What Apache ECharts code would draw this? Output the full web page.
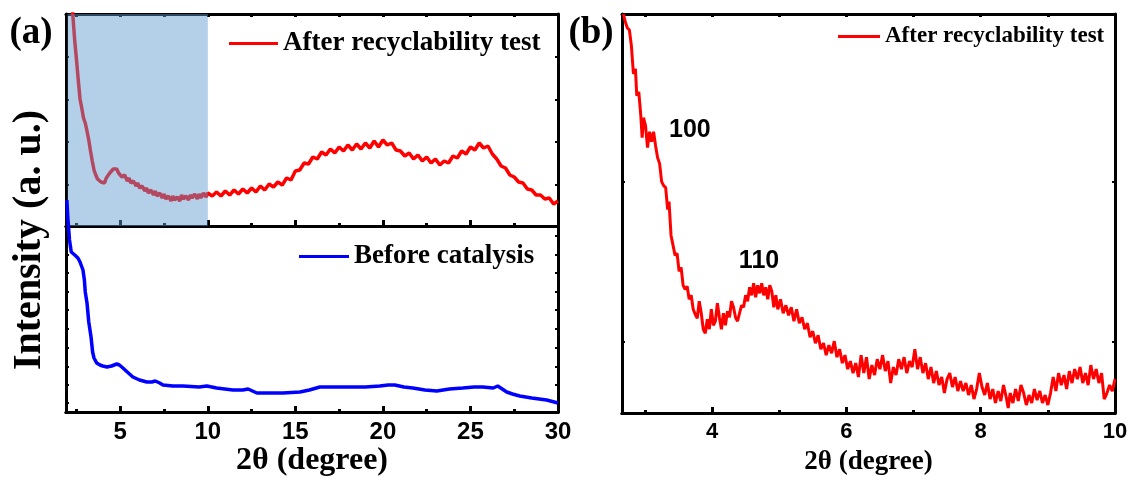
<!DOCTYPE html>
<html>
<head>
<meta charset="utf-8">
<script src="https://cdn.jsdelivr.net/npm/echarts@6/dist/echarts.min.js"></script>
<style>
html, body { margin: 0; padding: 0; background: #fff; }
#chart { width: 1130px; height: 482px; }
</style>
</head>
<body>
<div id="chart"></div>
<script>
// (a) upper panel, after recyclability test: [2theta, intensity]
const afterA = [
  [2.25, 220], [2.4, 185], [2.5, 166], [2.6, 146], [2.7, 127], [2.8, 118], [2.9, 108], [3.0, 103],
  [3.1, 95], [3.2, 86], [3.3, 75], [3.4, 65], [3.5, 56], [3.6, 51], [3.7, 47], [3.8, 49],
  [3.9, 44], [4.0, 46], [4.1, 43], [4.2, 48], [4.3, 47], [4.4, 53], [4.5, 52], [4.6, 57],
  [4.7, 55], [4.8, 57], [4.9, 53], [5.0, 55], [5.1, 49], [5.25, 51], [5.4, 45], [5.5, 48],
  [5.6, 43], [5.75, 45], [5.9, 40], [6.0, 43], [6.1, 38], [6.25, 40], [6.4, 35], [6.5, 38],
  [6.6, 33], [6.75, 36], [6.9, 31], [7.0, 35], [7.1, 30], [7.25, 33], [7.4, 28], [7.5, 32],
  [7.6, 27], [7.75, 30], [7.9, 25], [8.0, 30], [8.1, 26], [8.25, 29], [8.4, 25], [8.5, 31],
  [8.6, 27], [8.75, 30], [8.9, 26], [9.0, 31], [9.1, 28], [9.25, 32], [9.4, 27], [9.5, 32],
  [9.6, 28], [9.75, 33], [9.9, 29], [10.0, 33], [10.25, 30], [10.5, 34], [10.75, 30], [11.0, 35],
  [11.25, 31], [11.5, 36], [11.75, 32], [12.0, 37], [12.25, 33], [12.5, 38], [12.75, 34], [13.0, 40],
  [13.25, 36], [13.5, 42], [13.75, 39], [14.0, 44], [14.25, 41], [14.5, 48], [14.75, 46], [15.0, 55],
  [15.25, 56], [15.5, 63], [15.75, 62], [16.0, 69], [16.25, 67], [16.5, 74], [16.75, 71], [17.0, 77],
  [17.25, 73], [17.5, 79], [17.75, 75], [18.0, 81], [18.25, 76], [18.5, 82], [18.75, 77], [19.0, 83],
  [19.25, 78], [19.5, 85], [19.75, 79], [20.0, 86], [20.25, 81], [20.5, 83], [20.75, 76], [21.0, 75],
  [21.25, 70], [21.5, 73], [21.75, 67], [22.0, 71], [22.25, 65], [22.5, 69], [22.75, 63], [23.0, 67],
  [23.25, 61], [23.5, 65], [23.75, 63], [24.0, 70], [24.25, 68], [24.5, 75], [24.75, 72], [25.0, 79],
  [25.25, 76], [25.5, 83], [25.75, 78], [26.0, 80], [26.25, 72], [26.5, 67], [26.75, 60], [27.0, 58],
  [27.25, 51], [27.5, 49], [27.75, 44], [28.0, 43], [28.25, 37], [28.5, 36], [28.75, 31], [29.0, 31],
  [29.25, 27], [29.5, 28], [29.75, 22], [30.0, 25]
];

// (a) lower panel, before catalysis
const beforeA = [
  [1.95, 212], [2.0, 195], [2.1, 172], [2.2, 160], [2.4, 157], [2.58, 154], [2.7, 150], [2.87, 142],
  [2.95, 132], [3.0, 120], [3.1, 109], [3.2, 90], [3.33, 75], [3.42, 60], [3.5, 54], [3.65, 49],
  [3.84, 47], [4.0, 46], [4.24, 45], [4.5, 46], [4.8, 48], [4.95, 47], [5.15, 44], [5.4, 40],
  [5.72, 35], [6.1, 32], [6.52, 30], [6.8, 30], [7.0, 31], [7.09, 32], [7.25, 29], [7.44, 27],
  [8.0, 26], [8.58, 26], [9.5, 25], [9.95, 26], [10.5, 24], [11.43, 22], [12.0, 22], [12.3, 23],
  [12.4, 24], [12.55, 21], [12.8, 19], [13.5, 19], [14.29, 19], [15.26, 20], [15.8, 22], [16.4, 25],
  [17.2, 25], [17.94, 25], [19.0, 25], [19.82, 26], [20.3, 27], [20.68, 27], [21.2, 25], [21.71, 24],
  [22.4, 22], [23.08, 21], [23.8, 23], [24.56, 24], [25.2, 25], [25.7, 25], [26.3, 24], [26.56, 26],
  [26.65, 24], [27.07, 20], [27.4, 18], [27.81, 16], [28.5, 14], [29.35, 12], [30.0, 9]
];

// (b) low-angle zoom, after recyclability test
const afterB = [
  [2.68, 400], [2.71, 392], [2.74, 386], [2.77, 384], [2.80, 368], [2.83, 340], [2.86, 345], [2.88, 318],
  [2.91, 322], [2.94, 298], [2.96, 276], [2.98, 296], [3.01, 288], [3.04, 266], [3.07, 282], [3.10, 272],
  [3.13, 282], [3.16, 268], [3.19, 256], [3.22, 250], [3.25, 232], [3.28, 228], [3.31, 226], [3.34, 204],
  [3.36, 212], [3.39, 178], [3.42, 168], [3.45, 158], [3.48, 160], [3.51, 142], [3.54, 146], [3.57, 128],
  [3.60, 124], [3.63, 127], [3.66, 114], [3.69, 118], [3.72, 104], [3.75, 99], [3.78, 95], [3.81, 112],
  [3.84, 100], [3.87, 84], [3.90, 80], [3.93, 94], [3.96, 84], [3.99, 104], [4.02, 88], [4.05, 92],
  [4.08, 110], [4.11, 96], [4.14, 84], [4.17, 100], [4.20, 88], [4.23, 102], [4.26, 96], [4.29, 112],
  [4.32, 106], [4.35, 96], [4.38, 92], [4.41, 100], [4.44, 108], [4.47, 106], [4.50, 118], [4.53, 112],
  [4.56, 126], [4.59, 118], [4.62, 130], [4.65, 116], [4.68, 128], [4.71, 120], [4.74, 130], [4.77, 118],
  [4.80, 126], [4.83, 114], [4.86, 128], [4.89, 122], [4.92, 106], [4.95, 118], [4.98, 104], [5.02, 114],
  [5.06, 100], [5.10, 108], [5.14, 98], [5.18, 106], [5.22, 92], [5.26, 104], [5.30, 90], [5.34, 96],
  [5.38, 84], [5.42, 90], [5.46, 76], [5.50, 82], [5.54, 70], [5.58, 78], [5.62, 64], [5.66, 70],
  [5.70, 58], [5.74, 68], [5.78, 60], [5.82, 72], [5.86, 56], [5.90, 64], [5.94, 50], [5.98, 58],
  [6.02, 44], [6.06, 52], [6.10, 40], [6.14, 50], [6.18, 36], [6.22, 58], [6.26, 40], [6.30, 56],
  [6.34, 34], [6.38, 48], [6.42, 38], [6.46, 54], [6.50, 44], [6.54, 58], [6.58, 42], [6.62, 52],
  [6.66, 30], [6.70, 46], [6.74, 38], [6.78, 54], [6.82, 44], [6.86, 56], [6.90, 40], [6.94, 52],
  [6.98, 46], [7.02, 64], [7.06, 44], [7.10, 56], [7.14, 40], [7.18, 50], [7.22, 34], [7.26, 46],
  [7.30, 30], [7.34, 42], [7.38, 28], [7.42, 36], [7.46, 20], [7.50, 34], [7.54, 40], [7.58, 26],
  [7.62, 36], [7.66, 22], [7.70, 32], [7.74, 22], [7.78, 30], [7.82, 18], [7.86, 28], [7.90, 14],
  [7.94, 24], [7.98, 40], [8.02, 26], [8.06, 18], [8.10, 30], [8.14, 14], [8.18, 24], [8.22, 10],
  [8.26, 22], [8.30, 12], [8.34, 28], [8.38, 16], [8.41, 5], [8.44, 20], [8.48, 10], [8.52, 24],
  [8.56, 12], [8.60, 28], [8.64, 20], [8.68, 8], [8.72, 18], [8.76, 10], [8.80, 24], [8.84, 13],
  [8.88, 22], [8.92, 10], [8.96, 18], [9.00, 8], [9.04, 20], [9.08, 36], [9.12, 22], [9.16, 40],
  [9.20, 28], [9.24, 38], [9.28, 24], [9.32, 42], [9.36, 30], [9.40, 44], [9.44, 34], [9.48, 46],
  [9.52, 30], [9.56, 40], [9.60, 28], [9.64, 48], [9.68, 34], [9.72, 44], [9.76, 30], [9.80, 40],
  [9.84, 14], [9.88, 20], [9.92, 28], [9.96, 22], [10.0, 34]
];

// ticks and labels
const labelsA = [5, 10, 15, 20, 25, 30];
const majorA = [5, 10, 15, 20, 25];
const minorA = [2.5, 7.5, 12.5, 17.5, 22.5, 27.5];
const topTicksA = [2.5, 5, 7.5, 10, 12.5, 15, 17.5, 20, 22.5, 25, 27.5];
const labelsB = [4, 6, 8, 10];
const majorB = [4, 6, 8];
const minorB = [3, 5, 7, 9];
const yTicksTop = [41, 84, 126, 169];
const yTicksBottom = [9, 27, 45, 64, 83, 102, 120, 139, 157, 176];
const yTicksB = [71, 232];
const peaks = [{ name: '100', coord: [3.67, 284] }, { name: '110', coord: [4.7, 152] }];

const serif = '"Liberation Serif", "Times New Roman", serif';
const sans = '"Liberation Sans", Arial, sans-serif';

function xAx(grid, pos, min, max, ticks, len, labels, fontSize) {
  return {
    type: 'value', gridIndex: grid, position: pos, min: min, max: max,
    axisLine: { show: true, onZero: false, lineStyle: { color: '#000', width: 3 } },
    axisTick: { show: true, inside: true, length: len, customValues: ticks, lineStyle: { color: '#000', width: 3 } },
    axisLabel: labels
      ? { show: true, customValues: labels, color: '#000', fontFamily: sans, fontWeight: 'bold', fontSize: fontSize, margin: 8 }
      : { show: false },
    splitLine: { show: false }
  };
}

function yAx(grid, pos, max, ticks) {
  return {
    type: 'value', gridIndex: grid, position: pos, min: 0, max: max,
    axisLine: { show: true, onZero: false, lineStyle: { color: '#000', width: 3 } },
    axisTick: { show: true, inside: true, length: 3, customValues: ticks, lineStyle: { color: '#000', width: 2 } },
    axisLabel: { show: false },
    splitLine: { show: false }
  };
}

let myChart = echarts.init(document.getElementById('chart'));

let option = {
  animation: false,
  backgroundColor: '#fff',
  grid: [
    { left: 66, top: 14, width: 492, height: 212, outerBoundsMode: 'none' },
    { left: 66, top: 226, width: 492, height: 186, outerBoundsMode: 'none' },
    { left: 622, top: 14, width: 493, height: 399, outerBoundsMode: 'none' }
  ],
  xAxis: [
    xAx(0, 'bottom', 1.9, 30, majorA, 6),
    xAx(0, 'bottom', 1.9, 30, minorA, 3),
    xAx(0, 'top', 1.9, 30, topTicksA, 3),
    Object.assign(xAx(1, 'bottom', 1.9, 30, majorA, 6, labelsA, 24), {
      name: '2θ (degree)', nameLocation: 'middle', nameGap: 30,
      nameTextStyle: { fontFamily: serif, fontWeight: 'bold', fontSize: 32, color: '#000' }
    }),
    xAx(1, 'bottom', 1.9, 30, minorA, 3),
    Object.assign(xAx(2, 'bottom', 2.66, 10, majorB, 6, labelsB, 22), {
      name: '2θ (degree)', nameLocation: 'middle', nameGap: 36,
      nameTextStyle: { fontFamily: serif, fontWeight: 'bold', fontSize: 27, color: '#000' }
    }),
    xAx(2, 'bottom', 2.66, 10, minorB, 3),
    xAx(2, 'top', 2.66, 10, [3, 4, 5, 6, 7, 8, 9], 3)
  ],
  yAxis: [
    yAx(0, 'left', 212, yTicksTop),
    yAx(0, 'right', 212, yTicksTop),
    yAx(1, 'left', 186, yTicksBottom),
    yAx(1, 'right', 186, yTicksBottom),
    yAx(2, 'left', 400, yTicksB),
    yAx(2, 'right', 400, yTicksB)
  ],
  legend: [
    {
      data: ['After recyclability test'], left: 229, top: 30, padding: 0,
      icon: 'rect', itemWidth: 49, itemHeight: 3, selectedMode: false,
      textStyle: { fontFamily: serif, fontWeight: 'bold', fontSize: 27, color: '#000' }
    },
    {
      data: ['Before catalysis'], left: 299, top: 243, padding: 0,
      icon: 'rect', itemWidth: 50, itemHeight: 3, selectedMode: false,
      textStyle: { fontFamily: serif, fontWeight: 'bold', fontSize: 27, color: '#000' }
    },
    {
      data: ['After recyclability test'], left: 838, top: 25, padding: 0,
      icon: 'rect', itemWidth: 42, itemHeight: 3, selectedMode: false,
      textStyle: { fontFamily: serif, fontWeight: 'bold', fontSize: 23, color: '#000' }
    }
  ],
  graphic: [
    { type: 'text', x: 31, y: 33, style: { text: '(a)', fontFamily: serif, fontWeight: 'bold', fontSize: 37, fill: '#000', textAlign: 'center', textVerticalAlign: 'middle' } },
    { type: 'text', x: 591, y: 33, style: { text: '(b)', fontFamily: serif, fontWeight: 'bold', fontSize: 37, fill: '#000', textAlign: 'center', textVerticalAlign: 'middle' } },
    { type: 'text', x: 30, y: 240, rotation: Math.PI / 2, style: { text: 'Intensity (a. u.)', fontFamily: serif, fontWeight: 'bold', fontSize: 40, fill: '#000', textAlign: 'center', textVerticalAlign: 'middle' } }
  ],
  series: [
    {
      name: 'After recyclability test', type: 'line', xAxisIndex: 0, yAxisIndex: 0,
      data: afterA, showSymbol: false, z: 2,
      lineStyle: { color: '#ff0000', width: 3.5 }, itemStyle: { color: '#ff0000' }
    },
    {
      name: 'shade', type: 'line', xAxisIndex: 0, yAxisIndex: 0, data: [], clip: false, z: 3,
      markArea: {
        silent: true, z: 3,
        itemStyle: { color: 'rgb(96,154,206)', opacity: 0.47 },
        data: [[{ xAxis: 1.99, yAxis: -2 }, { xAxis: 10, yAxis: 212 }]]
      }
    },
    {
      name: 'Before catalysis', type: 'line', xAxisIndex: 3, yAxisIndex: 2,
      data: beforeA, showSymbol: false, clip: false, z: 6,
      lineStyle: { color: '#0000ff', width: 3.5 }, itemStyle: { color: '#0000ff' }
    },
    {
      name: 'After recyclability test', type: 'line', xAxisIndex: 5, yAxisIndex: 4,
      data: afterB, showSymbol: false, z: 2,
      lineStyle: { color: '#ff0000', width: 3 }, itemStyle: { color: '#ff0000' },
      markPoint: {
        symbol: 'rect', symbolSize: 0,
        label: { show: true, position: 'inside', formatter: '{b}', color: '#000', fontFamily: sans, fontWeight: 'bold', fontSize: 25 },
        data: peaks
      }
    }
  ]
};
myChart.setOption(option);
</script>
</body>
</html>
